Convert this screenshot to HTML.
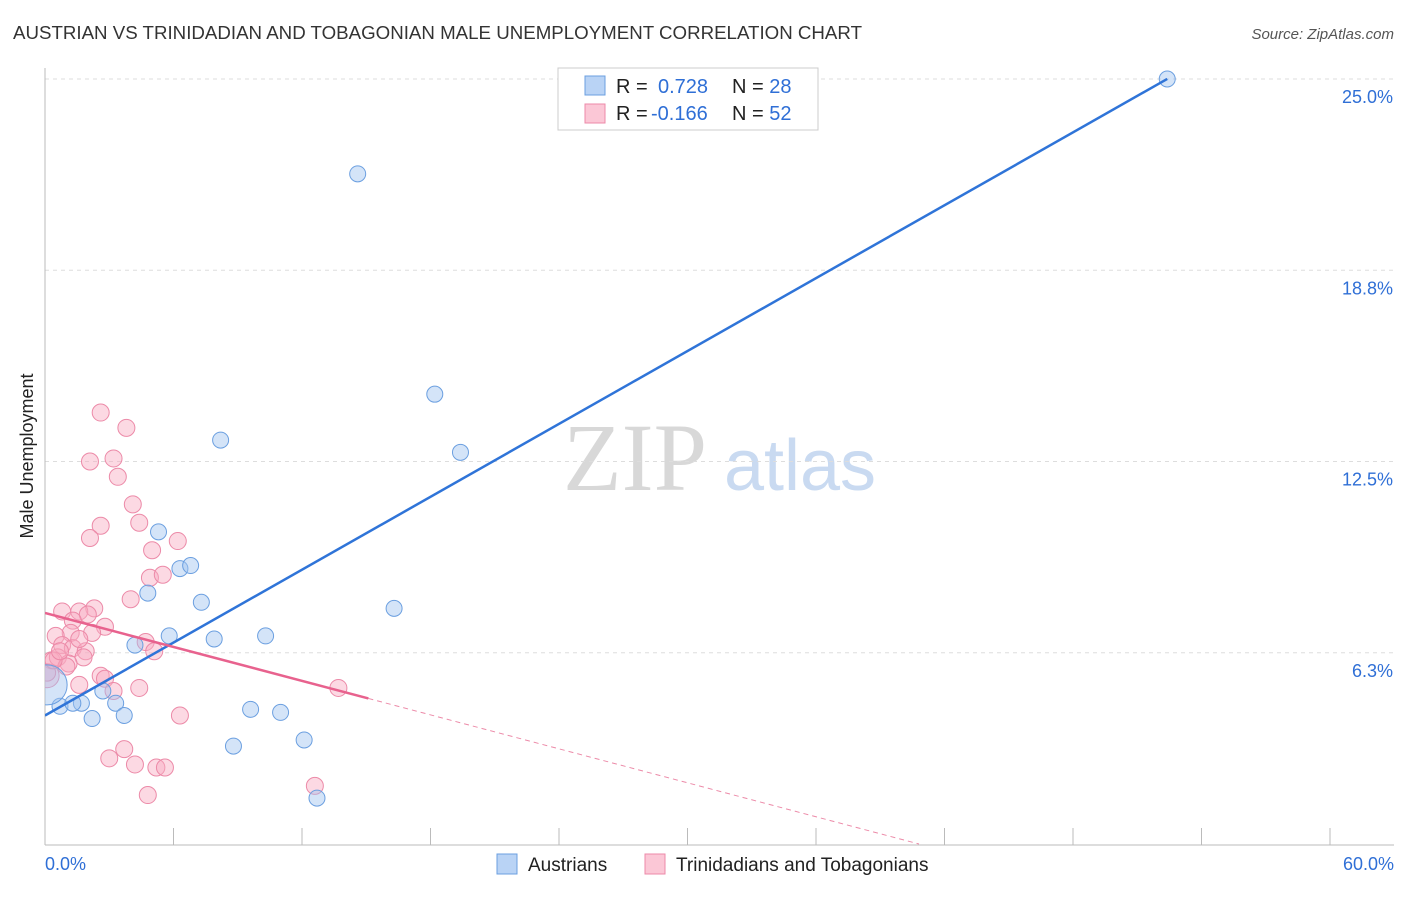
<!DOCTYPE html>
<html><head><meta charset="utf-8"><style>
body{margin:0;background:#fff;font-family:"Liberation Sans",sans-serif;}
</style></head><body>
<svg width="1406" height="892" viewBox="0 0 1406 892" xmlns="http://www.w3.org/2000/svg" id="svg">
<defs><clipPath id="plot"><rect x="45" y="40" width="1360" height="805"/></clipPath></defs>
<text x="13" y="39" font-size="18" fill="#333" textLength="849" lengthAdjust="spacingAndGlyphs">AUSTRIAN VS TRINIDADIAN AND TOBAGONIAN MALE UNEMPLOYMENT CORRELATION CHART</text>
<text x="1394" y="39" font-size="15" fill="#555" font-style="italic" text-anchor="end">Source: ZipAtlas.com</text>
<text transform="translate(33,456) rotate(-90)" font-size="18" fill="#222" text-anchor="middle">Male Unemployment</text>
<g>
<text x="635" y="490" font-size="96" fill="#d8d8d8" font-family="Liberation Serif,serif" text-anchor="middle">ZIP</text>
<text x="800" y="490" font-size="72" fill="#c9daf1" text-anchor="middle">atlas</text>
</g>
<g id="grid"></g><g id="axes"></g><g id="marks" clip-path="url(#plot)"></g>
<g>
<rect x="558" y="68" width="260" height="62" fill="#fff" stroke="#ccc"/>
<rect x="585" y="76" width="20" height="19" fill="#b9d3f5" stroke="#6b9fe0"/>
<rect x="585" y="104" width="20" height="19" fill="#fbc7d6" stroke="#ec8aa8"/>
<text x="616" y="93" font-size="20" fill="#222">R = <tspan x="658" fill="#2f6fd6">0.728</tspan><tspan x="732">N = </tspan><tspan fill="#2f6fd6">28</tspan></text>
<text x="616" y="120" font-size="20" fill="#222">R = <tspan x="651" fill="#2f6fd6">-0.166</tspan><tspan x="732">N = </tspan><tspan fill="#2f6fd6">52</tspan></text>
</g>
<g>
<rect x="497" y="854" width="20" height="20" fill="#b9d3f5" stroke="#6b9fe0"/>
<text x="528" y="871" font-size="19" fill="#222">Austrians</text>
<rect x="645" y="854" width="20" height="20" fill="#fbc7d6" stroke="#ec8aa8"/>
<text x="676" y="871" font-size="19" fill="#222">Trinidadians and Tobagonians</text>
</g>
</svg>
<script>
const xTicks=[0,6,12,18,24,30,36,42,48,54,60];
const yTickVals=[6.25,12.5,18.75,25];
const yTickLabels=["6.3%","12.5%","18.8%","25.0%"];
const blueX=[52.4,14.6,18.2,19.4,8.2,5.3,6.3,6.8,4.8,7.3,16.3,5.8,7.9,10.3,4.2,2.7,1.7,0.7,1.3,3.3,2.2,3.7,9.6,11.0,8.8,12.1,12.7,0.1];
const blueY=[25.0,21.9,14.7,12.8,13.2,10.2,9.0,9.1,8.2,7.9,7.7,6.8,6.7,6.8,6.5,5.0,4.6,4.5,4.6,4.6,4.1,4.2,4.4,4.3,3.2,3.4,1.5,5.2];
const blueR=[8,8,8,8,8,8,8,8,8,8,8,8,8,8,8,8,8,8,8,8,8,8,8,8,8,8,8,20];
const pinkX=[2.6,3.8,2.1,3.2,3.4,4.1,2.6,4.4,2.1,6.2,5.0,4.9,5.5,4.0,2.3,0.8,1.6,2.0,1.3,2.8,1.2,2.2,0.5,4.7,0.8,1.3,1.9,5.1,1.8,0.3,0.6,1.1,1.0,2.6,2.8,0.1,1.6,3.2,4.4,13.7,6.3,3.7,3.0,4.2,5.2,5.6,4.8,12.6,0.1,0.4,0.7,1.6];
const pinkY=[14.1,13.6,12.5,12.6,12.0,11.1,10.4,10.5,10.0,9.9,9.6,8.7,8.8,8.0,7.7,7.6,7.6,7.5,7.3,7.1,6.9,6.9,6.8,6.6,6.5,6.4,6.3,6.3,6.1,6.0,6.1,5.9,5.8,5.5,5.4,5.5,5.2,5.0,5.1,5.1,4.2,3.1,2.8,2.6,2.5,2.5,1.6,1.9,5.6,6.0,6.3,6.7];
const pinkR=[8.5,8.5,8.5,8.5,8.5,8.5,8.5,8.5,8.5,8.5,8.5,8.5,8.5,8.5,8.5,8.5,8.5,8.5,8.5,8.5,8.5,8.5,8.5,8.5,8.5,8.5,8.5,8.5,8.5,8.5,8.5,8.5,8.5,8.5,8.5,12,8.5,8.5,8.5,8.5,8.5,8.5,8.5,8.5,8.5,8.5,8.5,8.5,8.5,8.5,8.5,8.5];
const blueTrend=[4.2,0.397], pinkTrend=[7.55,-0.185];
const X=v=>45+v*(1285/60), Y=v=>844-v*30.6;
const NS="http://www.w3.org/2000/svg";
function mk(p,t,a){const e=document.createElementNS(NS,t);for(const k in a)e.setAttribute(k,a[k]);document.getElementById(p).appendChild(e);return e;}
yTickVals.forEach((v,i)=>{
 const g=mk('grid','line',{x1:45,x2:1394,y1:Y(v),y2:Y(v),stroke:'#ddd','stroke-dasharray':'4,4'});
 
 
 const t=mk('axes','text',{x:1393,y:Y(v)+24,'font-size':18,fill:'#2f6fd6','text-anchor':'end'});t.textContent=yTickLabels[i];
 
 
});
const ya=mk('axes','line',{x1:45,x2:45,y1:68,y2:845,stroke:'#bbb'});


const xa=mk('axes','line',{x1:45,x2:1394,y1:845,y2:845,stroke:'#bbb'});


xTicks.forEach(v=>{const l=mk('axes','line',{x1:X(v),x2:X(v),y1:828,y2:845,stroke:'#bbb'});
 
 });
[[0,'0.0%',45,'start'],[60,'60.0%',1394,'end']].forEach(a=>{const t=mk('axes','text',{x:a[2],y:870,'font-size':18,fill:'#2f6fd6','text-anchor':a[3]});t.textContent=a[1];
 
 });
pinkX.forEach((x,i)=>{const c=mk('marks','circle',{cx:X(x),cy:Y(pinkY[i]),r:pinkR[i],fill:'rgba(248,170,194,0.45)',stroke:'#ec8aa8','stroke-width':1});
 
 });
blueX.forEach((x,i)=>{const c=mk('marks','circle',{cx:X(x),cy:Y(blueY[i]),r:blueR[i],fill:'rgba(160,196,240,0.45)',stroke:'#6b9fe0','stroke-width':1});
 
 });
const bl=mk('marks','line',{x1:X(0),y1:Y(blueTrend[0]),x2:X(52.4),y2:Y(blueTrend[0]+blueTrend[1]*52.4),stroke:'#2f74d8','stroke-width':2.5});


const pl=mk('marks','line',{x1:X(0),y1:Y(pinkTrend[0]),x2:X(15.1),y2:Y(pinkTrend[0]+pinkTrend[1]*15.1),stroke:'#e8628e','stroke-width':2.5});


const xe=-pinkTrend[0]/pinkTrend[1];
const pd=mk('marks','line',{x1:X(15.1),y1:Y(pinkTrend[0]+pinkTrend[1]*15.1),x2:X(xe),y2:Y(0),stroke:'#ec8aa8','stroke-width':1,'stroke-dasharray':'5,4'});


</script>
</body></html>
